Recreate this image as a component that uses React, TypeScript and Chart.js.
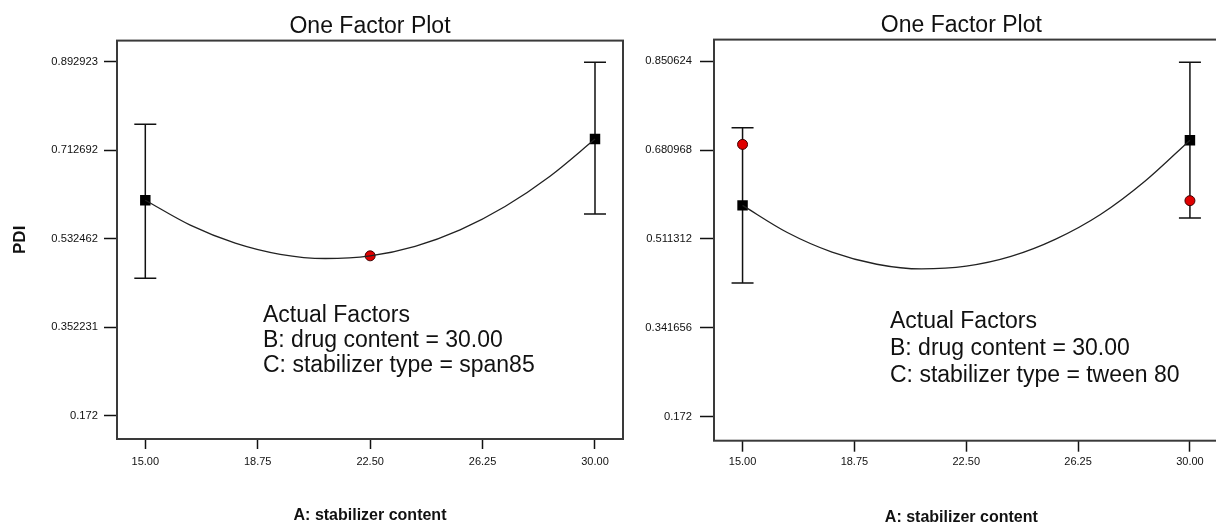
import React, { useEffect, useRef } from 'react';
import { Chart, registerables } from 'chart.js';

Chart.register(...registerables);

// ---------- data ----------
const xTickValues = [15, 18.75, 22.5, 26.25, 30];
const leftYTickValues = [0.172, 0.352231, 0.532462, 0.712692, 0.892923];
const rightYTickValues = [0.172, 0.341656, 0.511312, 0.680968, 0.850624];

const curveX = [15, 16.5, 18, 19.5, 21, 22.5, 24, 25.5, 27, 28.5, 30];
const leftCurveY = [0.6109, 0.5602, 0.5236, 0.5009, 0.4924, 0.4978, 0.5173, 0.5508, 0.5983, 0.6599, 0.7355];
const rightCurveY = [0.5755, 0.5237, 0.4863, 0.4631, 0.4541, 0.4594, 0.478, 0.511, 0.558, 0.622, 0.7];

const designX = [15, 30];
const leftPredY = [0.6109, 0.7355];
const leftLowY = [0.4524, 0.5828];
const leftHighY = [0.7656, 0.8915];
const leftActualX = [22.5];
const leftActualY = [0.4978];

const rightPredY = [0.5755, 0.7];
const rightLowY = [0.4272, 0.5515];
const rightHighY = [0.7238, 0.849];
const rightActualX = [15, 30];
const rightActualY = [0.692, 0.5845];

const titleText = 'One Factor Plot';
const xTitle = 'A: stabilizer content';
const yTitle = 'PDI';
const leftNotes = ['Actual Factors', 'B: drug content = 30.00', 'C: stabilizer type = span85'];
const rightNotes = ['Actual Factors', 'B: drug content = 30.00', 'C: stabilizer type = tween 80'];

const SANS = "'Liberation Sans', Arial, sans-serif";

// ---------- plugins ----------
const framePlugin = {
  id: 'frame',
  beforeDatasetsDraw(chart: any) {
    const o = chart.options.plugins.frame || {};
    const { left, top, right, bottom } = chart.chartArea;
    const ctx = chart.ctx;
    ctx.save();
    ctx.strokeStyle = '#3a3a3a';
    ctx.lineWidth = 2;
    ctx.strokeRect(left, top, (o.openRight ? right + 20 : right) - left, bottom - top);
    ctx.restore();
  },
};

const errorBarPlugin = {
  id: 'errbars',
  beforeDatasetsDraw(chart: any) {
    const o = chart.options.plugins.errbars;
    if (!o) return;
    const xs = chart.scales.x;
    const ys = chart.scales.y;
    const ctx = chart.ctx;
    ctx.save();
    ctx.strokeStyle = '#111';
    ctx.lineWidth = 1.5;
    o.x.forEach((xv: number, i: number) => {
      const px = xs.getPixelForValue(xv);
      const pl = ys.getPixelForValue(o.low[i]);
      const ph = ys.getPixelForValue(o.high[i]);
      ctx.beginPath();
      ctx.moveTo(px, ph);
      ctx.lineTo(px, pl);
      ctx.moveTo(px - 11, ph);
      ctx.lineTo(px + 11, ph);
      ctx.moveTo(px - 11, pl);
      ctx.lineTo(px + 11, pl);
      ctx.stroke();
    });
    ctx.restore();
  },
};

const notesPlugin = {
  id: 'notes',
  afterDraw(chart: any) {
    const o = chart.options.plugins.notes;
    if (!o) return;
    const ctx = chart.ctx;
    ctx.save();
    ctx.fillStyle = '#111';
    ctx.font = `23px ${SANS}`;
    ctx.textAlign = 'left';
    ctx.textBaseline = 'alphabetic';
    o.lines.forEach((t: string, i: number) => {
      ctx.fillText(t, o.x, o.baselines[i]);
    });
    ctx.restore();
  },
};

// ---------- panel ----------
type PanelProps = {
  left: number;
  width: number;
  yTicks: number[];
  yMin: number;
  yMax: number;
  xMin: number;
  xMax: number;
  yAxisWidth: number;
  xAxisHeight: number;
  padRight: number;
  yTickLen: number;
  yTickPad: number;
  xTickLen: number;
  xTickPad: number;
  showYTitle: boolean;
  openRight: boolean;
  curveY: number[];
  predY: number[];
  lowY: number[];
  highY: number[];
  actualX: number[];
  actualY: number[];
  notes: string[];
  notesX: number;
  notesBase: number[];
  titlePadTop: number;
  titlePadBottom: number;
  xTitlePadBottom: number;
};

function FactorPlot(p: PanelProps) {
  const ref = useRef<HTMLCanvasElement | null>(null);
  useEffect(() => {
    const canvas = ref.current;
    if (!canvas) return;
    const chart = new Chart(canvas, {
      type: 'scatter',
      data: {
        datasets: [
          {
            type: 'line',
            data: curveX.map((x, i) => ({ x, y: p.curveY[i] })),
            borderColor: '#222',
            borderWidth: 1.3,
            pointRadius: 0,
            cubicInterpolationMode: 'monotone',
            fill: false,
          } as any,
          {
            data: designX.map((x, i) => ({ x, y: p.predY[i] })),
            pointStyle: 'rect',
            pointRadius: 7.4,
            backgroundColor: '#000',
            borderColor: '#000',
            borderWidth: 0,
          },
          {
            data: p.actualX.map((x, i) => ({ x, y: p.actualY[i] })),
            pointStyle: 'circle',
            pointRadius: 5,
            backgroundColor: '#e00000',
            borderColor: '#400000',
            borderWidth: 1,
          },
        ],
      },
      options: {
        animation: false,
        responsive: false,
        devicePixelRatio: 1,
        layout: { padding: { left: 0, right: p.padRight, top: 0, bottom: 0 } },
        plugins: {
          legend: { display: false },
          tooltip: { enabled: false },
          title: {
            display: true,
            text: titleText,
            fullSize: false,
            color: '#111',
            font: { family: SANS, size: 23, weight: 'normal' },
            padding: { top: p.titlePadTop, bottom: p.titlePadBottom },
          },
          frame: { openRight: p.openRight },
          errbars: { x: designX, low: p.lowY, high: p.highY },
          notes: { lines: p.notes, x: p.notesX, baselines: p.notesBase },
        } as any,
        scales: {
          x: {
            type: 'linear',
            min: p.xMin,
            max: p.xMax,
            border: { display: false },
            grid: {
              display: true,
              drawOnChartArea: false,
              drawTicks: true,
              tickLength: p.xTickLen,
              tickColor: '#111',
              tickWidth: 1.5,
            },
            afterBuildTicks: (s: any) => {
              s.ticks = xTickValues.map((v) => ({ value: v }));
            },
            afterFit: (s: any) => {
              s.height = p.xAxisHeight;
            },
            ticks: {
              autoSkip: false,
              maxRotation: 0,
              padding: p.xTickPad,
              color: '#111',
              font: { family: SANS, size: 11 },
              callback: (v: any) => Number(v).toFixed(2),
            },
            title: {
              display: true,
              text: xTitle,
              color: '#111',
              font: { family: SANS, size: 16, weight: 'bold' },
              padding: { top: 0, bottom: p.xTitlePadBottom },
            },
          },
          y: {
            type: 'linear',
            min: p.yMin,
            max: p.yMax,
            border: { display: false },
            grid: {
              display: true,
              drawOnChartArea: false,
              drawTicks: true,
              tickLength: p.yTickLen,
              tickColor: '#111',
              tickWidth: 1.5,
            },
            afterBuildTicks: (s: any) => {
              s.ticks = p.yTicks.map((v) => ({ value: v }));
            },
            afterFit: (s: any) => {
              s.width = p.yAxisWidth;
            },
            ticks: {
              autoSkip: false,
              padding: p.yTickPad,
              color: '#111',
              font: { family: SANS, size: 11.2 },
              callback: (v: any) => String(v),
            },
            title: {
              display: p.showYTitle,
              text: yTitle,
              color: '#111',
              font: { family: SANS, size: 17, weight: 'bold' },
              padding: { top: 10, bottom: 0 },
            },
          },
        },
      } as any,
      plugins: [framePlugin, errorBarPlugin, notesPlugin] as any,
    });
    return () => chart.destroy();
  }, []);
  return (
    <div style={{ position: 'absolute', left: p.left, top: 0, width: p.width, height: 526 }}>
      <canvas ref={ref} width={p.width} height={526} style={{ display: 'block', width: p.width, height: 526 }} />
    </div>
  );
}

export default function App() {
  return (
    <div style={{ position: 'absolute', left: 0, top: 0, width: 1216, height: 526, background: '#fff', overflow: 'hidden' }}>
      <FactorPlot
        left={0}
        width={640}
        yTicks={leftYTickValues}
        yMin={0.12516}
        yMax={0.93569}
        xMin={14.056}
        xMax={30.934}
        yAxisWidth={117}
        xAxisHeight={87}
        padRight={17}
        yTickLen={13}
        yTickPad={6}
        xTickLen={10}
        xTickPad={6}
        showYTitle={true}
        openRight={false}
        curveY={leftCurveY}
        predY={leftPredY}
        lowY={leftLowY}
        highY={leftHighY}
        actualX={leftActualX}
        actualY={leftActualY}
        notes={leftNotes}
        notesX={263}
        notesBase={[321.7, 346.9, 372.2]}
        titlePadTop={13}
        titlePadBottom={0}
        xTitlePadBottom={1}
      />
      <FactorPlot
        left={640}
        width={576}
        yTicks={rightYTickValues}
        yMin={0.12612}
        yMax={0.89211}
        xMin={14.0426}
        xMax={30.626}
        yAxisWidth={74}
        xAxisHeight={85.3}
        padRight={0}
        yTickLen={14}
        yTickPad={8}
        xTickLen={11}
        xTickPad={4}
        showYTitle={false}
        openRight={true}
        curveY={rightCurveY}
        predY={rightPredY}
        lowY={rightLowY}
        highY={rightHighY}
        actualX={rightActualX}
        actualY={rightActualY}
        notes={rightNotes}
        notesX={250}
        notesBase={[328.3, 355, 381.7]}
        titlePadTop={12}
        titlePadBottom={0}
        xTitlePadBottom={-1}
      />
    </div>
  );
}
